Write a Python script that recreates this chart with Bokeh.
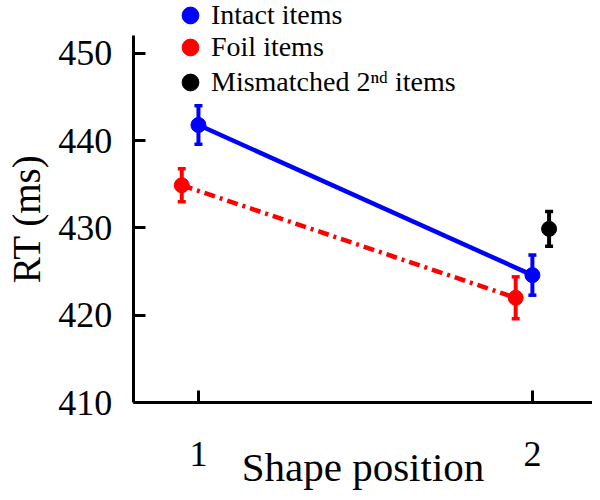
from bokeh.plotting import figure
from bokeh.models import (ColumnDataSource, Whisker, TeeHead, Legend, LegendItem,
                          FixedTicker, Range1d)
from bokeh.embed import file_html
from bokeh.resources import INLINE

# ---- data ----
shape_positions = [1, 2]
intact_rt = [441.8, 424.6]
intact_err = [2.2, 2.3]
foil_rt = [434.9, 422.0]
foil_err = [1.9, 2.4]
mismatch_positions = [2]
mismatch_rt = [429.9]
mismatch_err = [2.0]
y_ticks = [410, 420, 430, 440, 450]
x_ticks = [1, 2]
legend_labels = ["Intact items", "Foil items", "Mismatched 2\u207f\u1d48 items"]

DODGE = 0.05
FONT = "Liberation Serif"
Y_AXIS_MIN, Y_AXIS_MAX = 410, 452.06
X_AXIS_MIN, X_AXIS_MAX = 0.805, 2.18

def src(xs, ys, es, off):
    return ColumnDataSource(dict(
        x=[v + off for v in xs], y=ys,
        upper=[a + b for a, b in zip(ys, es)],
        lower=[a - b for a, b in zip(ys, es)]))

s_int = src(shape_positions, intact_rt, intact_err, 0.0)
s_foil = src(shape_positions, foil_rt, foil_err, -DODGE)
s_mis = src(mismatch_positions, mismatch_rt, mismatch_err, DODGE)

p = figure(width=592, height=492, output_backend="svg", toolbar_location=None,
           x_range=Range1d(0.4072, 2.18), y_range=Range1d(399.69, 456.07),
           min_border_left=0, min_border_right=0, min_border_top=0,
           min_border_bottom=0)
p.outline_line_color = None
p.grid.visible = False
p.background_fill_color = "white"
p.border_fill_color = "white"

BLUE = "#0000ff"
RED = "#ff0000"
BLACK = "#000000"

p.line("x", "y", source=s_int, line_color=BLUE, line_width=4.5)
p.line("x", "y", source=s_foil, line_color=RED, line_width=4.5, line_dash="11 5 3 5")

for s, c in ((s_int, BLUE), (s_foil, RED), (s_mis, BLACK)):
    w = Whisker(source=s, base="x", upper="upper", lower="lower", dimension="height",
                line_color=c, line_width=4,
                upper_head=TeeHead(size=8, line_color=c, line_width=3.5),
                lower_head=TeeHead(size=8, line_color=c, line_width=3.5))
    p.add_layout(w)

r_int = p.scatter("x", "y", source=s_int, size=15, color=BLUE)
r_foil = p.scatter("x", "y", source=s_foil, size=15, color=RED)
r_mis = p.scatter("x", "y", source=s_mis, size=15, color=BLACK)

# one legend per row so each row sits where the reference has it
row_y = [456, 424, 389]
for lab, r, yy in zip(legend_labels, (r_int, r_foil, r_mis), row_y):
    lg = Legend(items=[LegendItem(label=lab, renderers=[r])],
                location=(169, yy), orientation="vertical",
                label_text_font=FONT, label_text_font_size="28px",
                label_text_color="black", glyph_width=42, glyph_height=42,
                label_standoff=-8, label_height=42, spacing=0, padding=0, margin=0,
                border_line_color=None, background_fill_alpha=0)
    p.add_layout(lg, "center")

# axes
for ax in (p.xaxis[0], p.yaxis[0]):
    ax.axis_line_width = 3
    ax.axis_line_color = "black"
    ax.major_tick_line_width = 3
    ax.major_tick_line_color = "black"
    ax.major_tick_in = 12
    ax.major_tick_out = 0
    ax.minor_tick_line_color = None
    ax.major_label_text_font = FONT
    ax.major_label_text_font_size = "36px"
    ax.major_label_text_color = "black"
    ax.axis_label_text_font = FONT
    ax.axis_label_text_font_style = "normal"
    ax.axis_label_text_color = "black"

p.yaxis[0].ticker = FixedTicker(ticks=y_ticks)
p.yaxis[0].bounds = (Y_AXIS_MIN, Y_AXIS_MAX)
p.yaxis[0].fixed_location = X_AXIS_MIN
p.xaxis[0].ticker = FixedTicker(ticks=x_ticks)
p.xaxis[0].bounds = (X_AXIS_MIN, X_AXIS_MAX)
p.xaxis[0].fixed_location = Y_AXIS_MIN
p.yaxis[0].axis_label = "RT (ms)"
p.xaxis[0].axis_label = "Shape position"
p.yaxis[0].axis_label_text_font_size = "39px"
p.xaxis[0].axis_label_text_font_size = "41px"
p.yaxis[0].major_label_standoff = 21
p.yaxis[0].axis_label_standoff = 8
p.xaxis[0].major_label_standoff = 39
p.xaxis[0].axis_label_standoff = -25

open("out.html", "w").write(file_html(p, INLINE))
